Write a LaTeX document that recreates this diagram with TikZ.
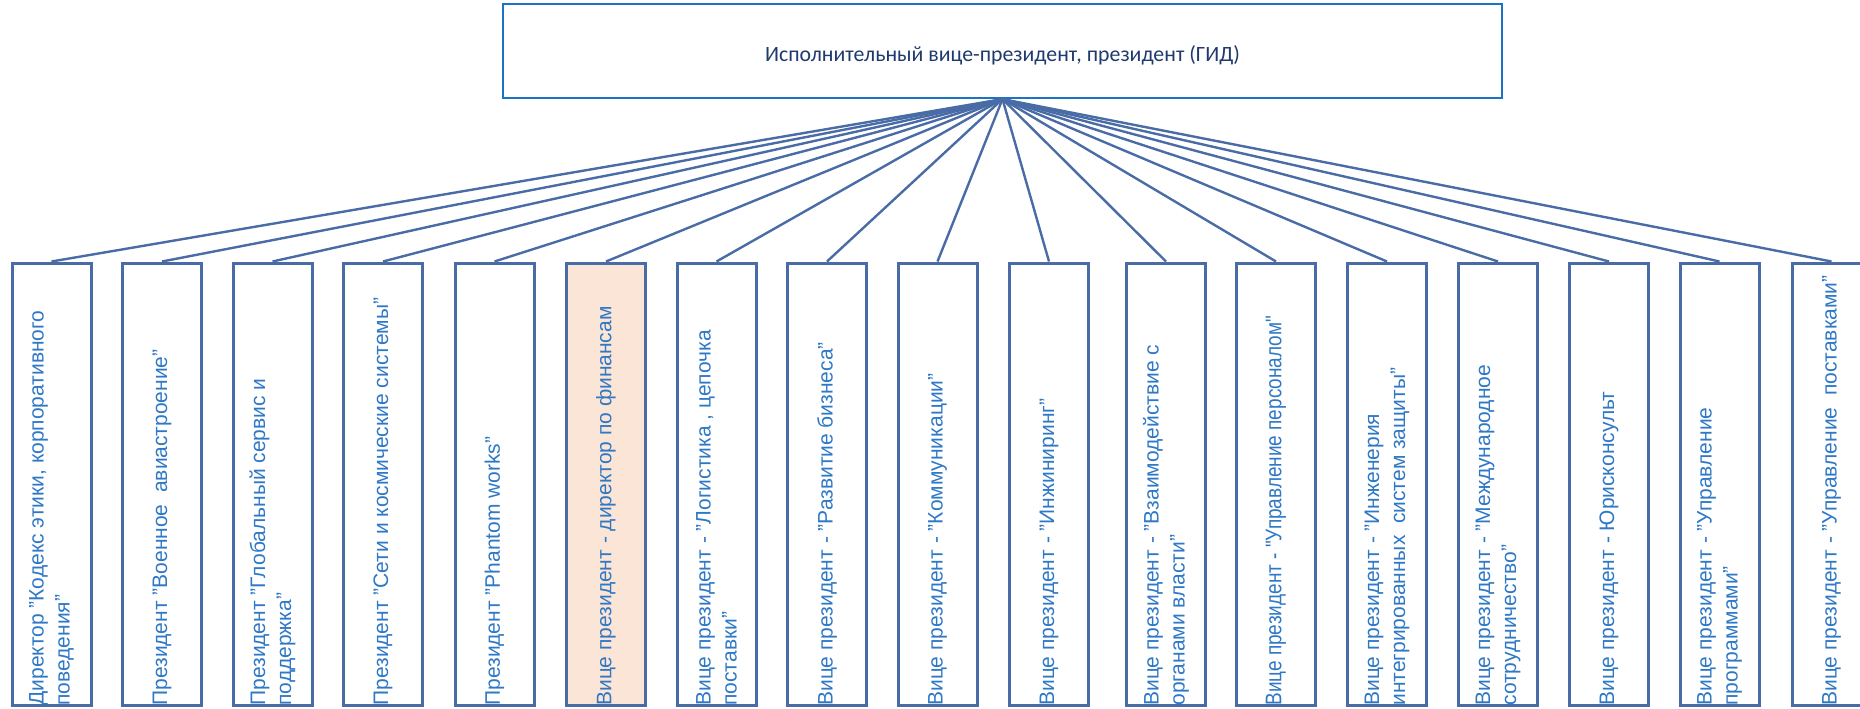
\documentclass[tikz,border=0pt]{standalone}
\usepackage{fontspec}
\setmainfont{Liberation Sans}
\newfontfamily\carlitofont{Carlito}
\newfontfamily\narrowsans[FakeStretch=0.84]{Liberation Sans}
\definecolor{boxline}{HTML}{4A6CA6}
\definecolor{topline}{HTML}{1A73C4}
\definecolor{toptext}{HTML}{1F3A6E}
\definecolor{subtext}{HTML}{2E78C6}
\definecolor{peach}{HTML}{FBE5D6}
\tikzset{
  topbox/.style={draw=topline, line width=1.1pt, fill=white, minimum width=499.5pt, minimum height=47pt, inner sep=0pt},
  subbox/.style={draw=boxline, line width=1.5pt, fill=white, minimum width=39.5pt, minimum height=221pt, inner sep=0pt},
  hilite/.style={fill=peach},
  plain/.style={},
  conn/.style={draw=boxline, line width=1.2pt},
  lbl/.style={rotate=90, anchor=west, inner sep=0pt, align=left, text=subtext, font=\fontsize{10.5}{13}\selectfont},
  narrowlbl/.style={font=\narrowsans\fontsize{11.3}{13}\selectfont}
}
\begin{document}
\begin{tikzpicture}[x=0.5pt,y=-0.5pt]
\useasboundingbox (0,0) rectangle (1860,708);
\node[topbox] (top) at (1002.5,51) {};
\node[text=toptext, font=\carlitofont\fontsize{10.9}{13}\selectfont, inner sep=0pt] (toplbl) at (1002.5,55) {Исполнительный вице-президент, президент (ГИД)};
\foreach \i/\x/\bs/\ls/\t in {
  1/51.5/plain/plain/{Директор "Кодекс этики, корпоративного\\поведения"},
  2/162/plain/plain/{Президент "Военное\ \ авиастроение"},
  3/272.5/plain/plain/{Президент "Глобальный сервис и\\поддержка"},
  4/383/plain/plain/{Президент "Сети и космические системы"},
  5/494.5/plain/plain/{Президент "Phantom works"},
  6/606/hilite/plain/{Вице президент - директор по финансам},
  7/716.5/plain/plain/{Вице президент - "Логистика , цепочка\\поставки"},
  8/827/plain/plain/{Вице президент - "Развитие бизнеса"},
  9/937.5/plain/plain/{Вице президент - "Коммуникации"},
  10/1049/plain/plain/{Вице президент - "Инжиниринг"},
  11/1166/plain/plain/{Вице президент - "Взаимодействие с\\органами власти"},
  12/1276/plain/narrowlbl/{Вице президент - "Управление персоналом"},
  13/1387/plain/plain/{Вице президент - "Инженерия\\интегрированных\ \ систем защиты"},
  14/1498/plain/plain/{Вице президент - "Международное\\сотрудничество"},
  15/1609/plain/plain/{Вице президент - Юрисконсульт},
  16/1719.5/plain/plain/{Вице президент - "Управление\\программами"},
  17/1831.5/plain/plain/{Вице президент - "Управление\ \ поставками"}}
{
  \node[subbox, \bs] (b\i) at (\x,484) {};
  \node[lbl, \ls] (t\i) at (\x,706) {\t};
  \draw[conn] (top.south) -- (b\i.north);
}
\end{tikzpicture}
\end{document}
